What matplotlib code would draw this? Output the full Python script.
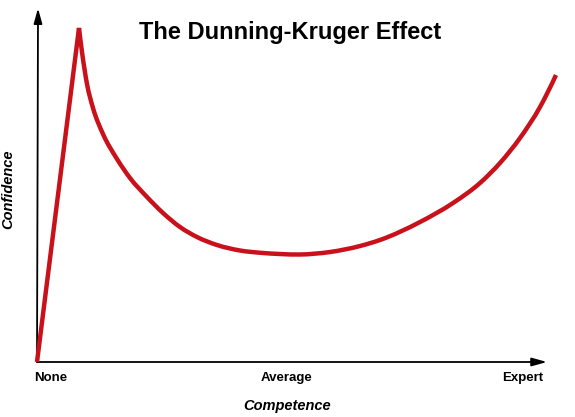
import matplotlib
matplotlib.use("Agg")
import matplotlib.pyplot as plt
import numpy as np
from matplotlib import font_manager
from matplotlib.path import Path
from matplotlib.patches import PathPatch

names = {f.name for f in font_manager.fontManager.ttflist}
narrow = "Liberation Sans Narrow" if "Liberation Sans Narrow" in names else "Liberation Sans"

# Data: competence (0-100) vs confidence (0-100)
competence = [0, 8.235, 8.824, 9.804, 10.98, 12.94, 15.69, 18.24, 21.57, 24.71, 28.04,
              31.37, 35.29, 39.80, 44.31, 47.65, 51.57, 57.45, 63.33, 67.25, 75.10,
              81.57, 86.86, 90.78, 94.71, 98.63, 101.76]
confidence = [0, 94.89, 88.07, 78.98, 72.16, 64.77, 57.67, 52.27, 46.88, 42.33, 38.35,
              35.51, 33.24, 31.68, 30.97, 30.68, 30.54, 31.25, 32.95, 34.66, 39.77,
              45.17, 50.85, 56.53, 63.64, 72.44, 81.53]
peak_index = 1
tick_pos = [2.7, 49.0, 95.3]
tick_labels = ["None", "Average", "Expert"]
title = "The Dunning-Kruger Effect"

W, H = 575, 417
fig = plt.figure(figsize=(W / 100, H / 100), dpi=100)
ax = fig.add_axes([0, 0, 1, 1])
# pixel mapping: x = 37 + 5.1*c ; y = 362 - 3.52*f
ax.set_xlim(-37 / 5.1, (W - 37) / 5.1)
ax.set_ylim(-(H - 362) / 3.52, 362 / 3.52)
ax.axis("off")

# axes with arrows
ax.annotate("", xy=(100, 0), xytext=(0, 0),
            arrowprops=dict(arrowstyle="-|>,head_length=0.9,head_width=0.25", color="black", lw=1.3,
                            shrinkA=0, shrinkB=0))
ax.annotate("", xy=(0.2, 100.5), xytext=(0, 0),
            arrowprops=dict(arrowstyle="-|>,head_length=0.9,head_width=0.25", color="black", lw=1.3,
                            shrinkA=0, shrinkB=0))


def hermite_path(xs, ys):
    """Smooth cubic (Hermite -> Bezier) drawing through the given points, y as function of x."""
    x = np.asarray(xs, float)
    y = np.asarray(ys, float)
    h = np.diff(x)
    d = np.diff(y) / h
    m = np.empty_like(x)
    m[1:-1] = (h[1:] * d[:-1] + h[:-1] * d[1:]) / (h[1:] + h[:-1])
    m[0] = 2 * d[0] - m[1]
    m[-1] = 2 * d[-1] - m[-2]
    verts = [(x[0], y[0])]
    codes = [Path.MOVETO]
    for i in range(len(x) - 1):
        verts += [(x[i] + h[i] / 3, y[i] + m[i] * h[i] / 3),
                  (x[i + 1] - h[i] / 3, y[i + 1] - m[i + 1] * h[i] / 3),
                  (x[i + 1], y[i + 1])]
        codes += [Path.CURVE4] * 3
    return verts, codes


red = "#c8111b"
lw = 3.2
verts = [(competence[0], confidence[0]), (competence[peak_index], confidence[peak_index])]
codes = [Path.MOVETO, Path.LINETO]
v2, c2 = hermite_path(competence[peak_index:], confidence[peak_index:])
verts += v2[1:]
codes += c2[1:]
ax.add_patch(PathPatch(Path(verts, codes), facecolor="none", edgecolor=red, lw=lw,
                       joinstyle="miter", capstyle="butt", clip_on=False, zorder=3))

for p, lab in zip(tick_pos, tick_labels):
    ax.text(p, -4.5, lab, ha="center", va="center", fontsize=9.5, fontweight="bold",
            family=narrow)

ax.text(49.0, -12.5, "Competence", ha="center", va="center", fontsize=10.5,
        fontweight="bold", style="italic", family=narrow)
ax.text(-5.6, 49, "Confidence", ha="center", va="center", rotation=90, fontsize=10.5,
        fontweight="bold", style="italic", family=narrow)

fig.text(290 / W, 1 - 32 / H, title, ha="center", va="center", fontsize=17,
         fontweight="bold", family=narrow)

fig.savefig("out.png", dpi=100)
